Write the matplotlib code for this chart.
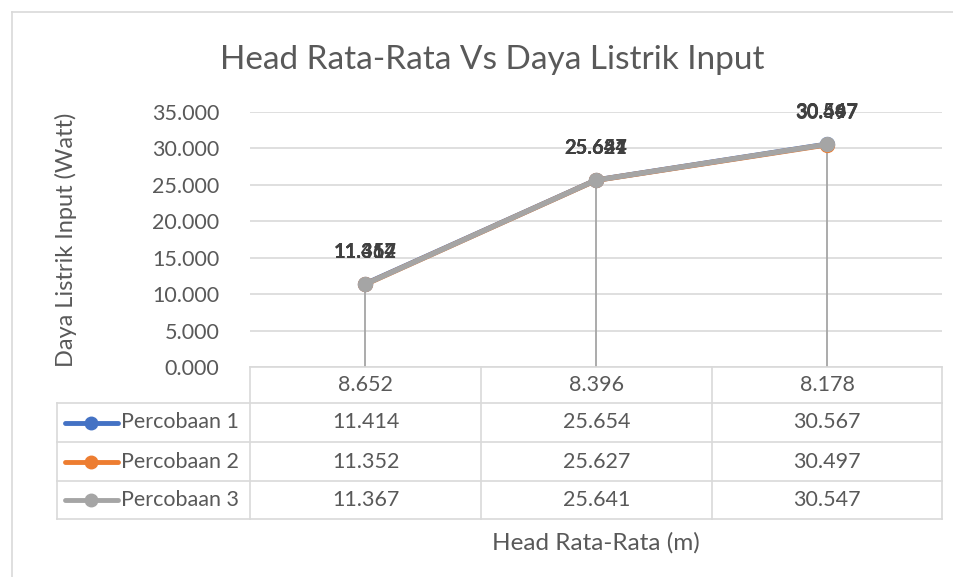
import matplotlib
matplotlib.use("Agg")
import matplotlib.pyplot as plt
from matplotlib.lines import Line2D

plt.rcParams['font.family'] = ['Lato', 'DejaVu Sans']

head = ['8.652', '8.396', '8.178']
series_names = ['Percobaan 1', 'Percobaan 2', 'Percobaan 3']
p1 = [11.414, 25.654, 30.567]
p2 = [11.352, 25.627, 30.497]
p3 = [11.367, 25.641, 30.547]
colors = ['#4472C4', '#ED7D31', '#A5A5A5']
series = [p1, p2, p3]

W, H = 954, 577
fig = plt.figure(figsize=(W / 100, H / 100), dpi=100)
txt = '#595959'
grid = '#D9D9D9'
fs = 15.5

def fx(x):
    return x / W

def fy(y):
    return 1 - y / H

# outer chart border
fig.add_artist(Line2D([fx(12), fx(12)], [fy(12), 0], color=grid, lw=1.2))
fig.add_artist(Line2D([fx(12), 1], [fy(12), fy(12)], color=grid, lw=1.2))

# plot area
x0, x1, ytop, ybot = 250, 942, 112, 367
ax = fig.add_axes([fx(x0), fy(ybot), fx(x1 - x0), (ybot - ytop) / H])
xs = list(range(len(head)))
ax.set_xlim(-0.5, len(head) - 0.5)
ax.set_ylim(0, 35)
ax.set_yticks(range(0, 36, 5))
ax.set_yticklabels([f'{v:.3f}' for v in range(0, 36, 5)], color=txt, fontsize=fs)
ax.set_xticks([])
ax.tick_params(axis='y', length=0, pad=22)
ax.grid(axis='y', color=grid, lw=1.2)
ax.set_axisbelow(True)
for s in ax.spines.values():
    s.set_visible(False)

# drop lines
for i in xs:
    top = max(s[i] for s in series)
    ax.plot([i, i], [0, top], color='#A5A5A5', lw=1.3, zorder=2)

for vals, c in zip(series, colors):
    ax.plot(xs, vals, color=c, lw=3.8, marker='o', ms=10, zorder=3,
            solid_capstyle='round')
    for i, v in zip(xs, vals):
        ax.annotate(f'{v:.3f}', (i, v), xytext=(0, 23), textcoords='offset points',
                    ha='center', va='center', fontsize=14.5, fontweight='bold',
                    color='#404040', zorder=4)

ax.set_ylabel('Daya Listrik Input (Watt)', color=txt, fontsize=17)
ax.yaxis.set_label_coords(-(250 - 77) / (x1 - x0), 0.5)

# data table
rows = [367, 403, 442, 481, 519]
cols = [57, 250, 481, 712, 942]
lw_t = 1.2
# horizontal lines
fig.add_artist(Line2D([fx(250), fx(942)], [fy(367), fy(367)], color=grid, lw=lw_t))
for r in rows[1:]:
    fig.add_artist(Line2D([fx(57), fx(942)], [fy(r), fy(r)], color=grid, lw=lw_t))
# vertical lines
fig.add_artist(Line2D([fx(57), fx(57)], [fy(403), fy(519)], color=grid, lw=lw_t))
for c in cols[1:]:
    fig.add_artist(Line2D([fx(c), fx(c)], [fy(367), fy(519)], color=grid, lw=lw_t))

for j, h in enumerate(head):
    cx = (cols[j + 1] + cols[j + 2]) / 2
    fig.text(fx(cx), fy((rows[0] + rows[1]) / 2), h, ha='center', va='center',
             fontsize=fs, color=txt)

for k, (name, vals, c) in enumerate(zip(series_names, series, colors)):
    cy = (rows[k + 1] + rows[k + 2]) / 2
    fig.add_artist(Line2D([fx(65), fx(118)], [fy(cy), fy(cy)], color=c, lw=3.5,
                          solid_capstyle='round'))
    fig.add_artist(Line2D([fx(91)], [fy(cy)], color=c, marker='o', ms=9))
    fig.text(fx(121), fy(cy), name, ha='left', va='center', fontsize=fs, color=txt)
    for j, v in enumerate(vals):
        cx = (cols[j + 1] + cols[j + 2]) / 2
        fig.text(fx(cx), fy(cy), f'{v:.3f}', ha='center', va='center',
                 fontsize=fs, color=txt)

fig.text(fx(596), fy(543), 'Head Rata-Rata (m)', ha='center', va='center',
         fontsize=17.5, color=txt)
fig.text(fx(492), fy(60), 'Head Rata-Rata Vs Daya Listrik Input', ha='center',
         va='center', fontsize=24, color=txt)

fig.savefig('out.png', dpi=100)
